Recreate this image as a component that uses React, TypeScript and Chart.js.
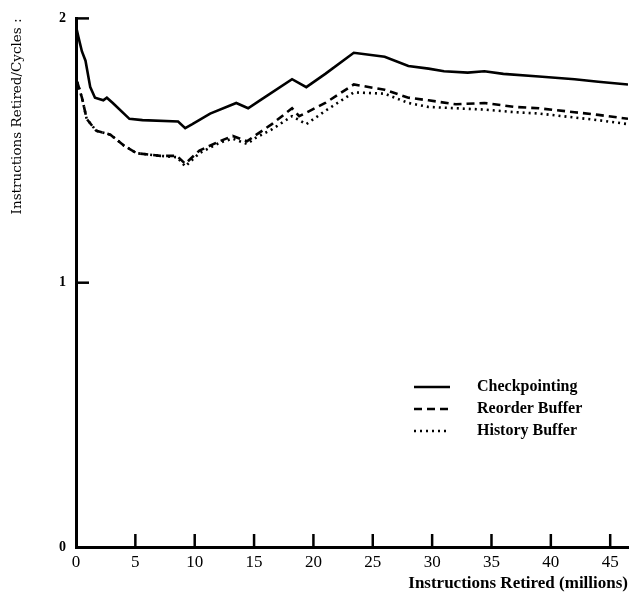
import { useEffect, useRef } from "react";
import { Chart, registerables } from "chart.js";

Chart.register(...registerables);

// Instructions retired (millions) and IPC per series
const checkpointX = [0, 0.2, 0.5, 0.8, 1.2, 1.6, 2.3, 2.6, 3.1, 4.5, 5.6, 8.6, 9.2, 9.8, 11.3, 13.5, 14.5, 15.5, 18.2, 19.4, 21, 23.4, 26, 28, 29.7, 31, 33, 34.4, 36, 39, 42, 44, 46.5];
const checkpointY = [1.97, 1.93, 1.875, 1.84, 1.74, 1.7, 1.69, 1.7, 1.68, 1.62, 1.615, 1.61, 1.585, 1.6, 1.64, 1.68, 1.66, 1.69, 1.77, 1.74, 1.79, 1.87, 1.855, 1.82, 1.81, 1.8, 1.795, 1.8, 1.79, 1.78, 1.77, 1.76, 1.75];

const reorderX = [0.1, 0.5, 0.9, 1.7, 2.9, 4.0, 5.1, 7.1, 8.5, 9.2, 10.4, 12.1, 13.2, 14.4, 15.2, 16.5, 18.2, 18.8, 21, 23.4, 26, 28, 29.7, 32, 34.4, 37, 39, 42, 44, 46.5];
const reorderY = [1.76, 1.7, 1.62, 1.575, 1.56, 1.52, 1.49, 1.48, 1.48, 1.45, 1.5, 1.535, 1.555, 1.535, 1.56, 1.6, 1.66, 1.63, 1.68, 1.75, 1.73, 1.7, 1.69, 1.675, 1.68, 1.665, 1.66, 1.645, 1.635, 1.62];

const historyX = [0.1, 0.5, 0.9, 1.7, 2.9, 4.0, 5.1, 7.1, 8.5, 9.2, 10.4, 12.1, 13.2, 14.4, 15.2, 16.5, 18.2, 19.4, 21, 23.4, 26, 28, 29.7, 32, 34.4, 37, 39, 42, 44, 46.5];
const historyY = [1.76, 1.7, 1.62, 1.575, 1.56, 1.52, 1.49, 1.48, 1.475, 1.44, 1.49, 1.53, 1.545, 1.525, 1.55, 1.58, 1.63, 1.6, 1.65, 1.72, 1.715, 1.68, 1.665, 1.66, 1.655, 1.645, 1.64, 1.625, 1.615, 1.6];

const seriesNames = ["Checkpointing", "Reorder Buffer", "History Buffer"];
const xTickValues = [0, 5, 10, 15, 20, 25, 30, 35, 40, 45];
const yTickValues = [0, 1, 2];
const xMax = 46.5;
const yMax = 2;
const xTitle = "Instructions Retired (millions)";
const yTitle = "Instructions Retired/Cycles :";

const FONT = "'Liberation Serif', 'Times New Roman', serif";
const WIDE_FONT = "'DejaVu Serif', serif";
const dashes: number[][] = [[], [8, 5], [2, 4]];

const toPoints = (xs: number[], ys: number[]) => xs.map((x, i) => ({ x, y: ys[i] }));

export default function App() {
  const ref = useRef<HTMLCanvasElement>(null);

  useEffect(() => {
    const canvas = ref.current;
    if (!canvas) return;

    const inwardTicks = {
      id: "inwardTicks",
      afterDatasetsDraw(chart: any) {
        const { ctx, chartArea, scales } = chart;
        ctx.save();
        ctx.strokeStyle = "#000";
        ctx.lineWidth = 2.5;
        xTickValues.forEach((v) => {
          if (v === 0) return;
          const px = scales.x.getPixelForValue(v);
          ctx.beginPath();
          ctx.moveTo(px, chartArea.bottom);
          ctx.lineTo(px, chartArea.bottom - 13);
          ctx.stroke();
        });
        yTickValues.forEach((v) => {
          if (v === 0) return;
          const py = scales.y.getPixelForValue(v);
          ctx.beginPath();
          ctx.moveTo(chartArea.left, py);
          ctx.lineTo(chartArea.left + 13, py);
          ctx.stroke();
        });
        ctx.restore();
      },
    };

    const boxLegend = {
      id: "boxLegend",
      afterDraw(chart: any) {
        const { ctx } = chart;
        ctx.save();
        ctx.font = `bold 16px ${FONT}`;
        ctx.fillStyle = "#000";
        ctx.textBaseline = "middle";
        seriesNames.forEach((name, i) => {
          const y = 387 + i * 22;
          ctx.beginPath();
          ctx.setLineDash(dashes[i]);
          ctx.lineWidth = 2.5;
          ctx.strokeStyle = "#000";
          ctx.moveTo(414, y);
          ctx.lineTo(450, y);
          ctx.stroke();
          ctx.setLineDash([]);
          ctx.fillText(name, 477, y);
        });
        ctx.restore();
      },
    };

    const chart = new Chart(canvas, {
      type: "line",
      data: {
        datasets: [
          { label: seriesNames[0], data: toPoints(checkpointX, checkpointY), borderColor: "#000", borderWidth: 2.6, borderDash: dashes[0], pointRadius: 0, tension: 0 },
          { label: seriesNames[1], data: toPoints(reorderX, reorderY), borderColor: "#000", borderWidth: 2.6, borderDash: dashes[1], pointRadius: 0, tension: 0 },
          { label: seriesNames[2], data: toPoints(historyX, historyY), borderColor: "#000", borderWidth: 2.6, borderDash: dashes[2], pointRadius: 0, tension: 0 },
        ],
      },
      options: {
        responsive: false,
        animation: false,
        layout: { padding: { top: 17, right: 2, left: 0, bottom: 0 } },
        plugins: { legend: { display: false }, tooltip: { enabled: false } },
        scales: {
          x: {
            type: "linear",
            min: 0,
            max: xMax,
            grid: { display: false, drawTicks: false, tickLength: 0 },
            border: { display: true, color: "#000", width: 3 },
            ticks: {
              stepSize: 5,
              includeBounds: false,
              autoSkip: false,
              maxRotation: 0,
              padding: 5,
              color: "#000",
              font: { family: FONT, size: 17 },
            },
            afterBuildTicks: (scale: any) => {
              scale.ticks = xTickValues.map((v) => ({ value: v }));
            },
            title: {
              display: true,
              text: xTitle,
              align: "end",
              color: "#000",
              font: { family: FONT, size: 17, weight: "bold", lineHeight: 1 },
              padding: { top: 0, bottom: 0 },
            },
            afterFit: (scale: any) => {
              scale.height = 45;
            },
          },
          y: {
            type: "linear",
            min: 0,
            max: yMax,
            grid: { display: false, drawTicks: false, tickLength: 0 },
            border: { display: true, color: "#000", width: 3 },
            ticks: {
              stepSize: 1,
              padding: 10,
              color: "#000",
              font: { family: FONT, size: 14, weight: "bold" },
            },
            afterBuildTicks: (scale: any) => {
              scale.ticks = yTickValues.map((v) => ({ value: v }));
            },
            title: {
              display: true,
              text: yTitle,
              align: "end",
              color: "#000",
              font: { family: WIDE_FONT, size: 13.5 },
              padding: { top: 9, bottom: 0 },
            },
            afterFit: (scale: any) => {
              scale.width = 76;
            },
          },
        },
      },
      plugins: [inwardTicks, boxLegend],
    } as any);

    return () => chart.destroy();
  }, []);

  return (
    <div style={{ position: "fixed", left: 0, top: 0, width: 630, height: 592, background: "#fff" }}>
      <canvas ref={ref} width={630} height={592} style={{ display: "block" }} />
    </div>
  );
}
